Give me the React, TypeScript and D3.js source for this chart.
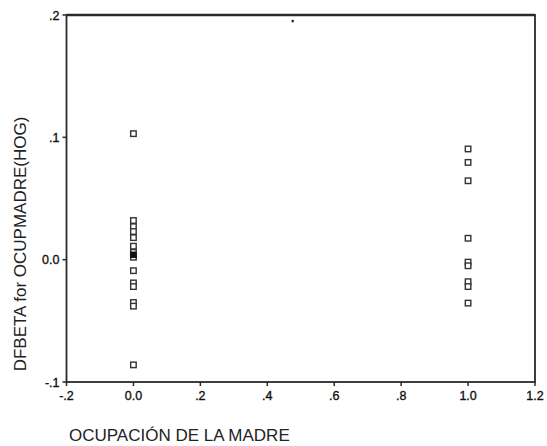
import React from "react";
import * as d3 from "d3";

// DFBETA values for OCUPMADRE(HOG), grouped by mother's occupation (0 / 1)
const groupZeroValues = [
  0.103, 0.032, 0.027, 0.023, 0.018, 0.011, 0.006, 0.003, 0.002, -0.009,
  -0.019, -0.022, -0.035, -0.038, -0.086,
];
const groupOneValues = [
  0.0905, 0.0795, 0.0645, 0.0175, -0.002, -0.005, -0.018, -0.022, -0.0355,
];
// overlapping observations rendered as a solid marker
const solidPoints = [{ x: 0, y: 0.004 }];
const strayPoints = [{ x: 0.476, y: 0.195 }];

const xTickValues = [-0.2, 0, 0.2, 0.4, 0.6, 0.8, 1.0, 1.2];
const xTickLabels = ["-.2", "0.0", ".2", ".4", ".6", ".8", "1.0", "1.2"];
const yTickValues = [0.2, 0.1, 0, -0.1];
const yTickLabels = [".2", ".1", "0.0", "-.1"];

const W = 547;
const H = 446;
const left = 66.5;
const right = 535;
const top = 15;
const bottom = 382;

export default function App() {
  const x = d3.scaleLinear().domain([-0.2, 1.2]).range([left, right]);
  const y = d3.scaleLinear().domain([-0.1, 0.2]).range([bottom, top]);

  const points = [
    ...groupZeroValues.map((v) => ({ x: 0, y: v })),
    ...groupOneValues.map((v) => ({ x: 1, y: v })),
  ];
  const s = 5.5;
  const font = "Liberation Sans, Arial, sans-serif";
  const ink = "#2a2a2a";

  return (
    <svg
      width={W}
      height={H}
      style={{ position: "absolute", left: 0, top: 0, background: "#fff" }}
    >
      <rect x={0} y={0} width={W} height={H} fill="#fff" />
      {/* frame */}
      <rect
        x={left}
        y={top}
        width={right - left}
        height={bottom - top}
        fill="none"
        stroke={ink}
        strokeWidth={1.8}
      />
      <line x1={left} x2={right} y1={top} y2={top} stroke={ink} strokeWidth={2.4} />
      {/* x ticks */}
      {xTickValues.map((v, i) => (
        <g key={"xt" + i}>
          <line
            x1={x(v)}
            x2={x(v)}
            y1={bottom}
            y2={bottom + 4}
            stroke={ink}
            strokeWidth={1.5}
          />
          <text
            x={x(v)}
            y={bottom + 18}
            textAnchor="middle"
            fontFamily={font}
            fontSize={12.5}
            fill="#111"
            stroke="#111"
            strokeWidth={0.35}
          >
            {xTickLabels[i]}
          </text>
        </g>
      ))}
      {/* y ticks */}
      {yTickValues.map((v, i) => (
        <g key={"yt" + i}>
          <line
            x1={left - 4}
            x2={left}
            y1={y(v)}
            y2={y(v)}
            stroke={ink}
            strokeWidth={1.5}
          />
          <text
            x={left - 7}
            y={y(v) + 4.5}
            textAnchor="end"
            fontFamily={font}
            fontSize={12.5}
            fill="#111"
            stroke="#111"
            strokeWidth={0.35}
          >
            {yTickLabels[i]}
          </text>
        </g>
      ))}
      {/* markers */}
      {points.map((p, i) => (
        <rect
          key={"p" + i}
          x={x(p.x) - s / 2}
          y={y(p.y) - s / 2}
          width={s}
          height={s}
          fill="#fff"
          stroke="#333"
          strokeWidth={1.4}
        />
      ))}
      {solidPoints.map((p, i) => (
        <rect
          key={"sp" + i}
          x={x(p.x) - s / 2}
          y={y(p.y) - s / 2}
          width={s}
          height={s}
          fill="#111"
          stroke="#111"
          strokeWidth={1}
        />
      ))}
      {strayPoints.map((p, i) => (
        <circle key={"st" + i} cx={x(p.x)} cy={y(p.y)} r={1.3} fill="#222" />
      ))}
      {/* axis titles */}
      <text
        transform={`translate(26, 244) rotate(-90)`}
        textAnchor="middle"
        fontFamily={font}
        fontSize={17}
        fill="#222"
      >
        DFBETA for OCUPMADRE(HOG)
      </text>
      <text x={69} y={441} fontFamily={font} fontSize={17} fill="#222">
        OCUPACIÓN DE LA MADRE
      </text>
    </svg>
  );
}
